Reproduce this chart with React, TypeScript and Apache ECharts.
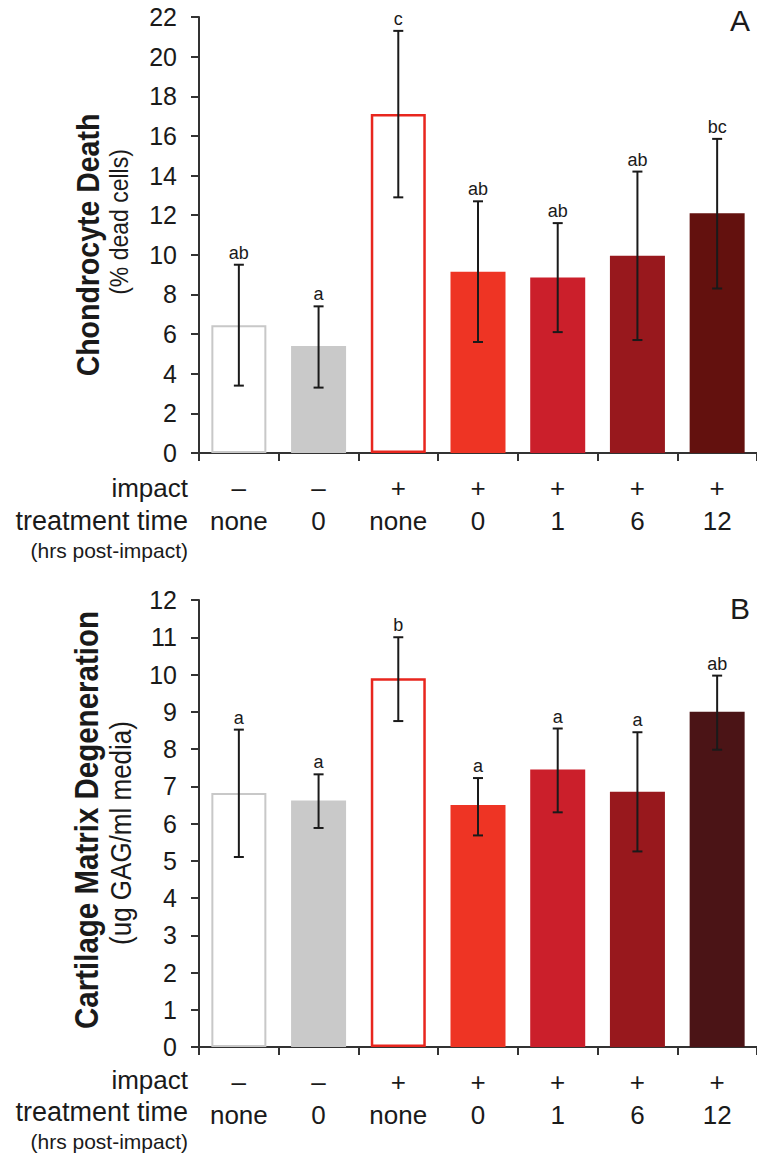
import React, { useEffect, useRef } from "react";
import * as echarts from "echarts";

const groups = ["G1", "G2", "G3", "G4", "G5", "G6", "G7"];
const impact = ["–", "–", "+", "+", "+", "+", "+"];
const treatmentTime = ["none", "0", "none", "0", "1", "6", "12"];

const deathMean = [6.45, 5.4, 17.1, 9.15, 8.85, 9.95, 12.1];
const deathLow = [3.4, 3.3, 12.9, 5.6, 6.1, 5.7, 8.3];
const deathHigh = [9.5, 7.4, 21.3, 12.7, 11.6, 14.2, 15.85];
const deathLetters = ["ab", "a", "c", "ab", "ab", "ab", "bc"];

const gagMean = [6.82, 6.62, 9.9, 6.5, 7.45, 6.85, 9.0];
const gagLow = [5.1, 5.88, 8.75, 5.68, 6.3, 5.25, 7.98];
const gagHigh = [8.52, 7.32, 11.0, 7.22, 8.55, 8.45, 9.97];
const gagLetters = ["a", "a", "b", "a", "a", "a", "ab"];

const fillA = ["#ffffff", "#c9c9c9", "#ffffff", "#ee3424", "#cb1f2b", "#98181d", "#63110e"];
const fillB = ["#ffffff", "#c9c9c9", "#ffffff", "#ee3424", "#cb1f2b", "#98181d", "#4b1416"];
const borders = ["#c8c8c8", null, "#e8261e", null, null, null, null];

const FONT = "'Liberation Sans', Arial, Helvetica, sans-serif";
const INK = "#1a1a1a";

function barData(values: number[], fills: string[]) {
  return values.map((v, i) => ({
    value: v,
    itemStyle: {
      color: fills[i],
      borderColor: borders[i] || fills[i],
      borderWidth: borders[i] ? (i === 2 ? 2.5 : 2) : 0,
    },
  }));
}

function errData(low: number[], high: number[]) {
  return low.map((l, i) => [i, l, high[i]]);
}

function errRender(letters: string[]) {
  return (params: any, api: any) => {
    const i = api.value(0);
    const lo = api.coord([i, api.value(1)]);
    const hi = api.coord([i, api.value(2)]);
    const cap = 5;
    const st = { stroke: INK, lineWidth: 2 };
    return {
      type: "group",
      children: [
        { type: "line", shape: { x1: lo[0], y1: lo[1], x2: hi[0], y2: hi[1] }, style: st },
        { type: "line", shape: { x1: hi[0] - cap, y1: hi[1], x2: hi[0] + cap, y2: hi[1] }, style: st },
        { type: "line", shape: { x1: lo[0] - cap, y1: lo[1], x2: lo[0] + cap, y2: lo[1] }, style: st },
        {
          type: "text",
          x: hi[0],
          y: hi[1] - 3,
          style: {
            text: letters[params.dataIndex],
            fill: INK,
            font: `18px ${FONT}`,
            textAlign: "center",
            textVerticalAlign: "bottom",
          },
        },
      ],
    };
  };
}

function xAxisFor(gridIndex: number) {
  return {
    type: "category",
    gridIndex,
    data: groups,
    axisLine: { show: true, lineStyle: { color: "#333", width: 2 } },
    axisTick: { show: true, length: 8, interval: 0, lineStyle: { color: "#333", width: 2 } },
    axisLabel: {
      interval: 0,
      margin: 18,
      formatter: (_v: string, idx: number) => `{i|${impact[idx]}}\n{t|${treatmentTime[idx]}}`,
      rich: {
        i: { fontSize: 26, lineHeight: 33, color: INK, fontFamily: FONT },
        t: { fontSize: 26, lineHeight: 33, color: INK, fontFamily: FONT },
      },
    },
  };
}

function yAxisFor(gridIndex: number, max: number, interval: number) {
  return {
    type: "value",
    gridIndex,
    min: 0,
    max,
    interval,
    axisLine: { show: true, lineStyle: { color: "#333", width: 2 } },
    axisTick: { show: true, length: 8, lineStyle: { color: "#333", width: 2 } },
    splitLine: { show: false },
    axisLabel: { fontSize: 25, color: INK, fontFamily: FONT, margin: 22 },
  };
}

function rowHeaders(yImpact: number, yTime: number, yHrs: number) {
  const base = { textAlign: "right", textVerticalAlign: "middle", fill: INK };
  return [
    { type: "text", x: 188, y: yImpact, style: { ...base, text: "impact", font: `26px ${FONT}` } },
    { type: "text", x: 188, y: yTime, style: { ...base, text: "treatment time", font: `27px ${FONT}` } },
    { type: "text", x: 188, y: yHrs, style: { ...base, text: "(hrs post-impact)", font: `21px ${FONT}` } },
  ];
}

function yTitle(x: number, y: number, text: string, bold: boolean, size: number) {
  return {
    type: "text",
    x,
    y,
    rotation: Math.PI / 2,
    scaleY: 1.1,
    style: {
      text,
      fill: INK,
      font: `${bold ? "bold " : ""}${size}px ${FONT}`,
      textAlign: "center",
      textVerticalAlign: "middle",
    },
  };
}

export default function App() {
  const ref = useRef<HTMLDivElement>(null);
  useEffect(() => {
    if (!ref.current) return;
    const chart = echarts.init(ref.current, null, { renderer: "svg" });
    chart.setOption({
      animation: false,
      backgroundColor: "#ffffff",
      grid: [
        { left: 199, right: 0, top: 17, height: 436, outerBoundsMode: "none" },
        { left: 199, right: 0, top: 600, height: 447, outerBoundsMode: "none" },
      ],
      xAxis: [xAxisFor(0), xAxisFor(1)],
      yAxis: [yAxisFor(0, 22, 2), yAxisFor(1, 12, 1)],
      series: [
        { type: "bar", xAxisIndex: 0, yAxisIndex: 0, barWidth: "69%", data: barData(deathMean, fillA) },
        {
          type: "custom",
          xAxisIndex: 0,
          yAxisIndex: 0,
          renderItem: errRender(deathLetters),
          data: errData(deathLow, deathHigh),
          z: 5,
        },
        { type: "bar", xAxisIndex: 1, yAxisIndex: 1, barWidth: "69%", data: barData(gagMean, fillB) },
        {
          type: "custom",
          xAxisIndex: 1,
          yAxisIndex: 1,
          renderItem: errRender(gagLetters),
          data: errData(gagLow, gagHigh),
          z: 5,
        },
      ],
      graphic: [
        yTitle(88, 245, "Chondrocyte Death", true, 28.5),
        yTitle(119, 222, "(% dead cells)", false, 23),
        yTitle(87, 820, "Cartilage Matrix Degeneration", true, 29.5),
        yTitle(121, 833, "(ug GAG/ml media)", false, 26),
        ...rowHeaders(488, 521, 550),
        ...rowHeaders(1080, 1112, 1141),
        {
          type: "text",
          x: 740,
          y: 20,
          style: { text: "A", font: `30px ${FONT}`, fill: INK, textAlign: "center", textVerticalAlign: "middle" },
        },
        {
          type: "text",
          x: 740,
          y: 608,
          style: { text: "B", font: `30px ${FONT}`, fill: INK, textAlign: "center", textVerticalAlign: "middle" },
        },
      ],
    });
    return () => chart.dispose();
  }, []);
  return (
    <div
      ref={ref}
      style={{ position: "absolute", left: 0, top: 0, width: 757, height: 1156, background: "#fff" }}
    />
  );
}
